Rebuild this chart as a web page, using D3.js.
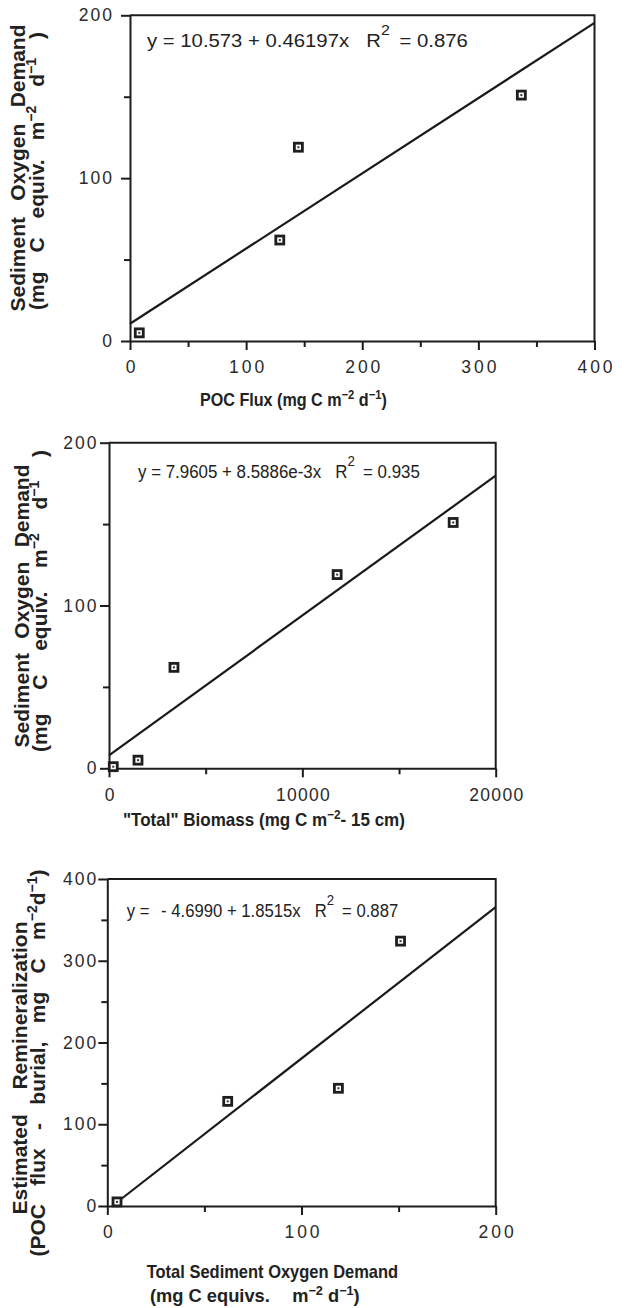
<!DOCTYPE html>
<html>
<head>
<meta charset="utf-8">
<script src="https://cdn.jsdelivr.net/npm/d3@7"></script>
<style>
  html, body { margin: 0; padding: 0; background: #fff; }
  svg { display: block; font-family: "Liberation Sans", Arial, Helvetica, sans-serif; }
  .axis path, .axis line { stroke: #1c1c1c; stroke-width: 2; }
  .axis text { font-size: 17.5px; fill: #2a2a2a; font-family: "Liberation Sans", Arial, sans-serif; }
  .title { font-weight: bold; fill: #222; }
</style>
</head>
<body>
<svg id="chart"></svg>
<script>
// values
const pocFlux = [8, 129, 145, 337];
const sodVsPoc = [5, 62, 119, 151];
const biomass = [220, 1500, 3360, 11800, 17800];
const sodVsBiomass = [1, 5, 62, 119, 151];
const totalSod = [5, 62, 119, 151];
const reminFlux = [5, 128, 144, 324];

// regressions printed in each panel
const fitIntercept = [10.573, 7.9605, -4.6990];
const fitSlope = [0.46197, 8.5886e-3, 1.8515];
const fitR2 = [0.876, 0.935, 0.887];

// ticks (only multiples of the step get a label)
const xTicks1 = [0, 50, 100, 150, 200, 250, 300, 350, 400];
const yTicks1 = [0, 50, 100, 150, 200];
const xTicks2 = [0, 5000, 10000, 15000, 20000];
const yTicks2 = [0, 50, 100, 150, 200];
const xTicks3 = [0, 50, 100, 150, 200];
const yTicks3 = [0, 50, 100, 150, 200, 250, 300, 350, 400];
const xLabelStep = [100, 10000, 100];
const yLabelStep = [100, 100, 100];

const W = 627, H = 1308;

const svg = d3.select("#chart")
  .attr("width", W)
  .attr("height", H);

// text parts: plain string, ["sup"] for superscript, {gap: n} for extra space before next part
const unitsSOD = ["(mg C equiv. m", ["\u22122"], " d", ["\u22121"], " )"];

const panels = [
  {
    xs: pocFlux, ys: sodVsPoc, xTicks: xTicks1, yTicks: yTicks1,
    box: { l: 130, r: 594.5, t: 15.3, b: 341 },
    xLs: 3, yLs: 2, yPad: 7,
    eq: { x: 147, y: 46.5, len: 321, gapR: 16, gapEq: 9, gapNeg: 0 },
    yTitle: [
      { parts: ["Sediment Oxygen Demand"], x: 25, cy: 168, len: 287 },
      { parts: unitsSOD, x: 44, cy: 171, len: 278 }
    ],
    xTitle: [
      { parts: ["POC Flux (mg C m", ["\u22122"], " d", ["\u22121"], ")"], x: 200, y: 406, len: 187 }
    ]
  },
  {
    xs: biomass, ys: sodVsBiomass, xTicks: xTicks2, yTicks: yTicks2,
    box: { l: 109, r: 495.7, t: 442.7, b: 768.3 },
    xLs: 1.3, yLs: 2, yPad: 1.5,
    eq: { x: 138, y: 478, len: 282, gapR: 16, gapEq: 9, gapNeg: 0 },
    yTitle: [
      { parts: ["Sediment Oxygen Demand"], x: 29, cy: 606, len: 283 },
      { parts: unitsSOD, x: 47, cy: 601, len: 302 }
    ],
    xTitle: [
      { parts: ["\"Total\" Biomass (mg C m", ["\u22122"], "- 15 cm)"], x: 123, y: 826, len: 282 }
    ]
  },
  {
    xs: totalSod, ys: reminFlux, xTicks: xTicks3, yTicks: yTicks3,
    box: { l: 107.3, r: 495.7, t: 879, b: 1206 },
    xLs: 3, yLs: 2, yPad: 0,
    eq: { x: 126.7, y: 917, len: 271.6, gapR: 16, gapEq: 9, gapNeg: 8 },
    yTitle: [
      { parts: ["Estimated Remineralization"], x: 27, cy: 1068, len: 293 },
      { parts: ["(POC flux - burial, mg C m", ["\u22122"], "d", ["\u22121"], ")"], x: 45, cy: 1063, len: 387 }
    ],
    xTitle: [
      { parts: ["Total Sediment Oxygen Demand"], x: 146.7, y: 1278, len: 251.6 },
      { parts: ["(mg C equivs.", { gap: 22 }, "m", ["\u22122"], " d", ["\u22121"], ")"], x: 150, y: 1302, len: 210 }
    ]
  }
];

function addParts(sel, parts, supSize, rise) {
  let shift = 0, gap = 0;
  parts.forEach(p => {
    if (p.gap !== undefined) { gap += p.gap; return; }
    const sup = Array.isArray(p);
    const target = sup ? -rise : 0;
    const t = sel.append("tspan").attr("dy", target - shift).text(sup ? p[0] : p);
    if (gap) t.attr("dx", gap);
    if (sup) t.attr("font-size", supSize);
    shift = target;
    gap = 0;
  });
}

// squeeze / stretch a text horizontally so it spans the given width
function fitWidth(sel, x, y, len) {
  const w = sel.node().getBBox().width;
  sel.attr("transform", `translate(${x},${y}) scale(${len / w},1)`);
}

function fmtCoef(v) {
  const a = Math.abs(v);
  const s = a < 0.01 ? a.toExponential(4) : a.toPrecision(5);
  return (v < 0 ? "- " : "") + s;
}

panels.forEach((p, i) => {
  const { l, r, t, b } = p.box;
  const xMax = d3.max(p.xTicks), yMax = d3.max(p.yTicks);

  const x = d3.scaleLinear().domain([0, xMax]).range([l, r]);
  const y = d3.scaleLinear().domain([0, yMax]).range([b, t]);

  const g = svg.append("g");

  // frame top and right
  g.append("path")
    .attr("d", `M${l},${t}H${r}V${b}`)
    .attr("fill", "none")
    .attr("stroke", "#1c1c1c")
    .attr("stroke-width", 2);

  const xAxis = d3.axisBottom(x)
    .tickValues(p.xTicks)
    .tickSize(9).tickSizeOuter(0).tickPadding(11)
    .tickFormat(d => d % xLabelStep[i] === 0 ? d : "");
  const yAxis = d3.axisLeft(y)
    .tickValues(p.yTicks)
    .tickSize(9).tickSizeOuter(0).tickPadding(p.yPad)
    .tickFormat(d => d % yLabelStep[i] === 0 ? d : "");

  const gx = g.append("g").attr("class", "axis")
    .attr("transform", `translate(0,${b})`).call(xAxis);
  gx.selectAll(".tick line").attr("y2", d => d % xLabelStep[i] === 0 ? 9 : 6);
  gx.selectAll(".tick text").attr("letter-spacing", p.xLs).attr("dx", p.xLs / 2);

  const gy = g.append("g").attr("class", "axis")
    .attr("transform", `translate(${l},0)`).call(yAxis);
  gy.selectAll(".tick line").attr("x2", d => d % yLabelStep[i] === 0 ? -9 : -6);
  gy.selectAll(".tick text").attr("letter-spacing", p.yLs);

  // regression line, clipped to the plot range
  const a = fitIntercept[i], s = fitSlope[i];
  const x0 = Math.max(0, (0 - a) / s);
  const x1 = Math.min(xMax, (yMax - a) / s);
  g.append("path")
    .datum([x0, x1])
    .attr("d", d3.line().x(d => x(d)).y(d => y(a + s * d)))
    .attr("fill", "none")
    .attr("stroke", "#1a1a1a")
    .attr("stroke-width", 2.2);

  // square markers with a dot inside
  const pts = p.xs.map((v, k) => [v, p.ys[k]]);
  const mk = g.selectAll(".pt").data(pts).enter().append("g")
    .attr("class", "pt")
    .attr("transform", d => `translate(${x(d[0])},${y(d[1])})`);
  mk.append("rect")
    .attr("x", -4).attr("y", -4).attr("width", 8).attr("height", 8)
    .attr("fill", "#fff").attr("stroke", "#1e1e1e").attr("stroke-width", 2.8);
  mk.append("rect")
    .attr("x", -1).attr("y", -1).attr("width", 2).attr("height", 2)
    .attr("fill", "#333");

  // equation
  const eq = g.append("text").attr("font-size", 19).attr("fill", "#222");
  addParts(eq, [
    "y =", { gap: p.eq.gapNeg }, " " + fmtCoef(a) + " + " + fmtCoef(s) + "x",
    { gap: p.eq.gapR }, "R", ["2"], { gap: p.eq.gapEq }, "= " + fitR2[i].toFixed(3)
  ], 15, 12);
  fitWidth(eq, p.eq.x, p.eq.y, p.eq.len);

  // y title lines: rotated, gaps between words stretched to span the plot
  p.yTitle.forEach(line => {
    const tx = g.append("text").attr("class", "title")
      .attr("font-size", 21)
      .attr("text-anchor", "middle");
    addParts(tx, line.parts, 14, 8);
    const full = line.parts.filter(q => q.gap === undefined)
      .map(q => Array.isArray(q) ? q[0] : q).join("");
    const nSp = (full.match(/ /g) || []).length;
    const w = tx.node().getComputedTextLength();
    tx.style("word-spacing", ((line.len - w) / nSp) + "px")
      .attr("transform", `translate(${line.x},${line.cy}) rotate(-90)`);
  });

  // x title lines
  p.xTitle.forEach(line => {
    const tx = g.append("text").attr("class", "title").attr("font-size", 18);
    addParts(tx, line.parts, 12.5, 7);
    fitWidth(tx, line.x, line.y, line.len);
  });
});
</script>
</body>
</html>
